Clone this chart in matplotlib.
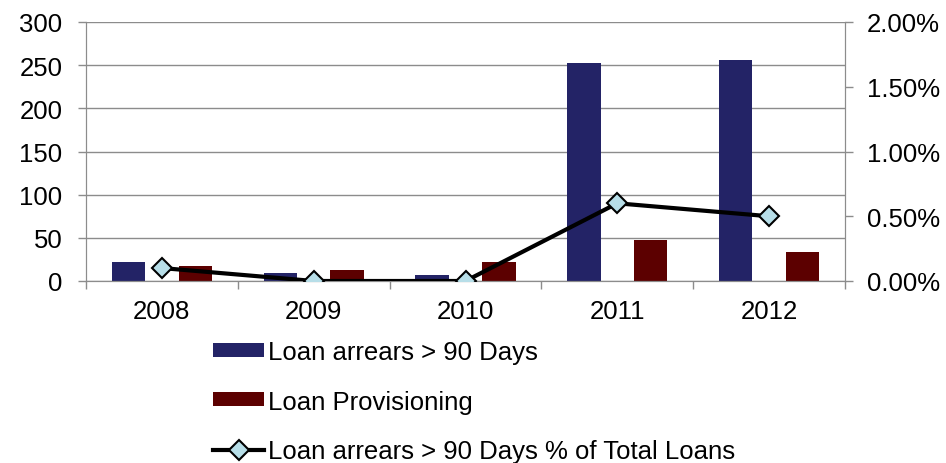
import matplotlib.pyplot as plt
import numpy as np
from matplotlib.ticker import FuncFormatter

plt.rcParams['font.family'] = ['Liberation Sans', 'DejaVu Sans']

years = ['2008', '2009', '2010', '2011', '2012']
arrears = [22.5, 8.7, 7.5, 252.3, 255.5]
provisioning = [17.5, 12.5, 22.5, 48, 34]
arrears_pct = [0.10, 0.00, 0.00, 0.60, 0.50]

navy = '#232366'
maroon = '#5C0000'
grid_col = '#8C8C8C'
fs = 18.5

fig = plt.figure(figsize=(9.46, 4.64), dpi=100)
ax = fig.add_axes([86 / 946, 1 - 282 / 464, (845 - 86) / 946, (282 - 23) / 464])
x = np.arange(len(years))
w = 0.22

b1 = ax.bar(x - w, arrears, w, color=navy, label='Loan arrears > 90 Days', zorder=2)
b2 = ax.bar(x + w, provisioning, w, color=maroon, label='Loan Provisioning', zorder=2)

ax.set_xlim(-0.5, len(years) - 0.5)
ax.set_ylim(0, 300)
ax.set_yticks(range(0, 301, 50))
ax.yaxis.grid(True, color=grid_col, linewidth=1, zorder=0)
ax.set_axisbelow(True)
ax.set_xticks(x)
ax.set_xticklabels(years)
ax.set_xticks(np.arange(-0.5, len(years)), minor=True)
ax.tick_params(axis='x', which='major', length=0, labelsize=fs, pad=13)
ax.tick_params(axis='x', which='minor', length=6, color=grid_col, width=1)
ax.tick_params(axis='y', length=6, color=grid_col, width=1, labelsize=fs, pad=11)
for s in ['left', 'right', 'bottom']:
    ax.spines[s].set_color(grid_col)
ax.spines['top'].set_visible(False)

ax2 = ax.twinx()
ax2.set_ylim(0, 2.0)
ax2.set_yticks(np.arange(0, 2.01, 0.5))
ax2.yaxis.set_major_formatter(FuncFormatter(lambda v, p: f'{v:.2f}%'))
ax2.tick_params(axis='y', length=6, color=grid_col, width=1, labelsize=fs, pad=10)
for s in ['left', 'right', 'bottom']:
    ax2.spines[s].set_color(grid_col)
ax2.spines['top'].set_visible(False)
l1, = ax2.plot(x, arrears_pct, color='black', linewidth=3, marker='D', markersize=10,
               markerfacecolor='#B7DEE8', markeredgecolor='black', markeredgewidth=1.5,
               label='Loan arrears > 90 Days % of Total Loans', zorder=3)

fig.legend(handles=[b1, b2, l1], loc='upper left', bbox_to_anchor=(200 / 946, 1 - 328 / 464),
           frameon=False, fontsize=fs, handlelength=2.0, handleheight=0.45,
           handletextpad=0.15, labelspacing=1.0, borderpad=0)

fig.savefig('out.png', dpi=100)
